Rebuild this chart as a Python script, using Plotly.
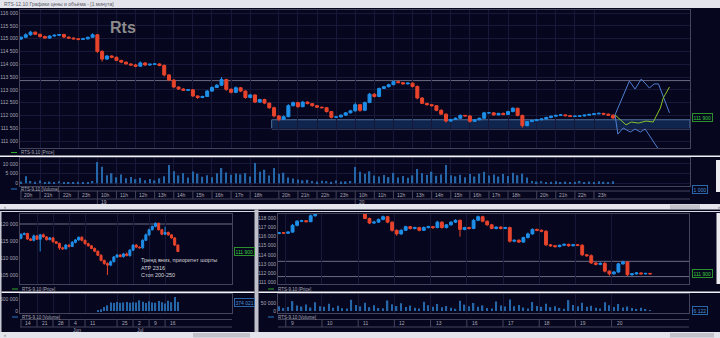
import plotly.graph_objects as go

# ---------------- RTS-9.10, 15-minute bars (upper window) ----------------
m15_first_open = 114980
m15_close = [
    115050, 115150, 115250, 115170, 115080, 115020, 115100, 115130, 115160, 115060,
    115020, 114990, 114970, 114990, 115050, 115150, 114500, 114200, 114320, 114270,
    114150, 114080, 114010, 113970, 113920, 114050, 113970, 114000, 114010, 113950,
    113580, 113380, 113110, 113030, 112980, 113000, 112760, 112700, 112740, 112950,
    113090, 113180, 113400, 113020, 112900, 113080, 112950, 112700, 112800, 112520,
    112620, 112480, 112300, 111980, 111850, 111950, 112380, 112500, 112340, 112520,
    112460, 112380, 112320, 112300, 112150, 111930, 111940, 112010, 112100, 112180,
    112420, 112200, 112500, 112830, 112740, 113050, 113120, 113200, 113320, 113280,
    113230, 113260, 113130, 112680, 112470, 112420, 112380, 112200, 112050, 111780,
    111840, 111890, 112000, 111980, 111770, 111830, 111890, 112100, 112100, 112020,
    112080, 112040, 112150, 112280, 112000, 111600, 111760, 111800, 111830, 111860,
    111920, 111970, 112000, 112020, 111990, 111960, 111970, 111980, 112010, 112040,
    112060, 112080, 112050, 112010, 111900,
]
m15_wick_up = [
    40, 60, 50, 30, 20, 40, 30, 40, 20, 30,
    20, 30, 20, 40, 30, 60, 20, 40, 40, 30,
    30, 20, 30, 20, 40, 60, 30, 20, 30, 20,
    40, 30, 30, 20, 40, 30, 30, 20, 30, 40,
    50, 40, 100, 30, 40, 50, 30, 30, 40, 20,
    30, 30, 20, 40, 30, 50, 60, 40, 30, 40,
    30, 20, 30, 20, 30, 20, 30, 20, 30, 40,
    80, 30, 40, 50, 30, 40, 30, 40, 50, 30,
    20, 30, 30, 40, 30, 20, 30, 20, 40, 30,
    30, 30, 40, 20, 30, 30, 20, 40, 30, 30,
    20, 30, 30, 40, 20, 30, 20, 30, 20, 20,
    30, 20, 30, 20, 20, 30, 20, 30, 20, 20,
    20, 30, 20, 20, 30,
]
m15_wick_dn = [
    30, 20, 40, 30, 40, 20, 30, 20, 30, 40,
    30, 20, 40, 20, 30, 20, 60, 100, 30, 40,
    30, 40, 20, 30, 40, 20, 40, 30, 20, 30,
    60, 40, 50, 30, 20, 30, 40, 60, 30, 20,
    30, 20, 30, 60, 40, 30, 40, 50, 30, 40,
    30, 40, 50, 60, 80, 30, 20, 30, 40, 20,
    30, 40, 30, 20, 40, 50, 30, 20, 30, 20,
    40, 60, 30, 20, 40, 30, 20, 30, 20, 30,
    30, 20, 40, 50, 30, 40, 30, 40, 30, 60,
    30, 20, 30, 20, 50, 30, 20, 30, 20, 30,
    20, 30, 20, 30, 40, 80, 30, 20, 30, 20,
    20, 30, 20, 20, 30, 20, 20, 30, 20, 20,
    20, 20, 30, 20, 30,
]
m15_volume = [
    900, 3600, 1200, 800, 1500, 700, 900, 600, 1100, 700,
    500, 600, 800, 500, 700, 1200, 11000, 8600, 4200, 5200,
    3100, 4600, 2600, 3300, 2100, 2800, 1600, 2200, 1500, 2600,
    3600, 9500, 6200, 4100, 5300, 3000, 6100, 5000, 3400, 4200,
    3100, 5200, 7900, 5600, 4400, 5100, 4600, 5300, 3500, 10500,
    6000, 7000, 4000, 7900, 5000, 5500, 3000, 2500, 2000, 1500,
    1800, 1200, 900, 1300, 1100, 800, 1400, 900, 1000, 1200,
    8500, 6000, 5000, 6200, 4000, 3500, 4300, 3200, 5400, 3000,
    3800, 2900, 4100, 7400, 5200, 4300, 6000, 3900, 4600, 9500,
    4200, 3600, 4400, 3100, 4800, 3500, 5000, 6000, 4000, 4500,
    3500, 4800, 3800, 5500, 4200, 5000, 3000, 1200, 900, 1100,
    700, 800, 1000, 600, 900, 700, 800, 1200, 600, 900,
    700, 1000, 800, 600, 1000,
]
m15_hour_slots = [0, 4, 8, 12, 16, 20, 24, 28, 32, 36, 40, 44, 48, 54, 58,
                  62, 66, 70, 74, 78, 82, 86, 90, 94, 98, 102, 108, 112, 116, 120]
m15_hour_labels = ["20h", "21h", "22h", "23h", "10h", "11h", "12h", "13h", "14h", "15h",
                   "16h", "17h", "18h", "20h", "21h", "22h", "23h", "10h", "11h", "12h",
                   "13h", "14h", "15h", "16h", "17h", "18h", "20h", "21h", "22h", "23h"]
m15_day_slots = [16, 70]
m15_day_labels = ["19", "20"]
m15_resistance = 113360
m15_zone_low, m15_zone_high = 111470, 111830
m15_zone_from = 52.5

# scenario paths drawn after the last bar
path_up_x = [124.4, 127.4, 128.6, 129.9, 131.6, 132.6, 133.5, 135.8]
path_up_y = [112020, 113340, 113030, 113420, 113070, 113230, 113230, 112100]
path_dn_x = [124.4, 125.0, 126.1, 127.6, 128.6, 129.7, 130.7, 133.6]
path_dn_y = [112020, 111270, 111510, 111350, 111470, 111350, 111470, 110650]
path_main_x = [124.4, 126.7, 127.8, 129.3, 130.9, 132.4, 133.9, 134.5, 135.8]
path_main_y = [112020, 111630, 111740, 111700, 111780, 111740, 112290, 112680, 113110]

# ---------------- RTS-9.10, daily bars (lower left window) ----------------
d1_first_open = 115800
d1_close = [
    116900, 117200, 115600, 115200, 116500, 115500, 116800, 116200, 115400, 115900,
    114800, 114300, 113000, 112700, 113800, 113400, 114600, 115300, 116100, 115200,
    114200, 113600, 112800, 112000, 110800, 109300, 108400, 107900, 108900, 110300,
    110900, 110400, 111200, 110700, 112300, 113800, 113200, 113000, 115200, 116800,
    118300, 119300, 120200, 118300, 117000, 117500, 116800, 115900, 113800, 111900,
]
d1_wick_up = [
    400, 300, 200, 300, 400, 200, 300, 400, 200, 300,
    300, 200, 200, 300, 300, 200, 400, 300, 200, 300,
    200, 300, 200, 300, 200, 300, 200, 300, 400, 300,
    300, 200, 300, 400, 300, 200, 300, 200, 300, 400,
    300, 200, 300, 200, 300, 1700, 300, 200, 300, 200,
]
d1_wick_dn = [
    300, 200, 300, 200, 300, 200, 3600, 200, 300, 200,
    300, 200, 600, 300, 200, 300, 200, 300, 200, 300,
    200, 300, 200, 300, 200, 300, 400, 2900, 300, 200,
    300, 200, 300, 200, 300, 200, 300, 200, 300, 200,
    300, 200, 300, 200, 300, 200, 300, 200, 300, 200,
]
d1_volume = [
    0, 0, 0, 0, 0, 0, 0, 0, 0, 0,
    0, 0, 0, 0, 0, 0, 0, 0, 0, 0,
    0, 0, 0, 0, 14000, 70000, 167000, 236000, 352000, 338000,
    371000, 344000, 356000, 379000, 341000, 362000, 349000, 447000, 381000, 336000,
    405000, 358000, 343000, 421000, 369000, 312000, 428000, 366000, 586000, 374021,
]
d1_week_slots = [0, 5, 10, 15, 20, 30, 35, 40, 45]
d1_week_labels = ["14", "21", "28", "4", "11", "25", "2", "9", "16"]
d1_month_slots = [15, 35]
d1_month_labels = ["Jun", "Jul"]
d1_level = 120000
d1_notes = ["Тренд вниз, приоритет шорты", "АТР 2316", "Стоп 200-250"]

# ---------------- RTS-9.10, intraday bars (lower right window) ----------------
h_first_open = 116350
h_close = [
    116430, 116380, 116500, 117250, 117700, 117750, 117650, 118300, 118800, 119300,
    119600, 119800, 120100, 119900, 120200, 119700, 119900, 119400, 118900, 118000,
    117500, 117600, 117900, 118200, 117600, 116700, 116300, 116700, 117100, 116900,
    117000, 116700, 117000, 117100, 117000, 117600, 117000, 117300, 117600, 117800,
    116800, 117000, 116900, 117800, 118200, 117700, 117300, 116900, 117050, 116900,
    117000, 115500, 115600, 115400, 115900, 116300, 116800, 116700, 116600, 115100,
    115000, 114900, 115050, 115150, 115000, 115100, 115050, 114000, 113900, 113100,
    112950, 113050, 112200, 111900, 112100, 113000, 113200, 111800, 111900, 112000,
    111900, 111950, 111900,
]
h_wick_up = [
    60, 80, 100, 150, 120, 100, 80, 150, 100, 120,
    100, 80, 120, 100, 150, 100, 80, 100, 120, 200,
    100, 150, 100, 120, 100, 80, 100, 120, 100, 80,
    100, 80, 120, 100, 80, 150, 100, 80, 100, 120,
    100, 80, 100, 150, 120, 100, 80, 100, 80, 100,
    80, 100, 80, 120, 100, 150, 100, 80, 100, 120,
    80, 100, 80, 100, 80, 100, 80, 120, 100, 150,
    100, 120, 150, 100, 120, 100, 150, 100, 80, 100,
    80, 60, 50,
]
h_wick_dn = [
    80, 60, 100, 80, 120, 100, 80, 60, 100, 120,
    100, 80, 120, 100, 80, 100, 80, 100, 120, 80,
    120, 100, 80, 100, 120, 150, 200, 100, 80, 120,
    100, 120, 80, 100, 150, 80, 120, 100, 80, 100,
    800, 100, 120, 80, 100, 120, 100, 80, 100, 120,
    80, 150, 120, 100, 80, 100, 80, 100, 120, 150,
    120, 100, 80, 100, 120, 80, 100, 150, 120, 100,
    120, 100, 150, 200, 100, 80, 100, 150, 100, 80,
    80, 60, 50,
]
h_volume = [
    30000, 18000, 25000, 62000, 35000, 28000, 41000, 22000,
    55000, 30000, 26000, 45000, 20000, 33000, 18000, 15000,
    70000, 38000, 29000, 52000, 24000, 36000, 19000, 17000,
    66000, 42000, 31000, 48000, 25000, 34000, 21000, 16000,
    58000, 36000, 27000, 44000, 23000, 31000, 20000, 14000,
    64000, 40000, 30000, 50000, 26000, 35000, 18000, 15000,
    60000, 34000, 28000, 72000, 30000, 38000, 22000, 16000,
    56000, 32000, 26000, 46000, 24000, 30000, 19000, 14000,
    68000, 38000, 29000, 52000, 26000, 33000, 20000, 15000,
    54000, 36000, 25000, 44000, 22000, 28000, 18000, 13000,
    20000, 12000, 6122,
]
h_day_slots = [1.5, 9.5, 17.5, 25.5, 33.5, 41.5, 49.5, 57.5, 65.5, 73.5]
h_day_labels = ["9", "10", "11", "12", "13", "16", "17", "18", "19", "20"]
h_levels = [113280, 111600]

# ---------------- styling ----------------
W, H = 720, 338
BG = "#06061e"
GRID = "#181838"
FRAME = "#44445c"
LEVEL = "#6c6c84"
UP = "#1f8fe8"
DOWN = "#e8442c"
VOL = "#2466a8"
TXT = "#a8a8b4"
CHROME = "#e4e5ec"
THUMB = "#c2c3ca"
GREEN = "#3ccf3c"
FONT = "Liberation Sans"


def px(x):
    return x / W


def py(y):
    return 1 - y / H


def fmt(v):
    return f"{v:,}".replace(",", " ")


def build_ohlc(first_open, closes, wick_up, wick_dn):
    opens = [first_open] + closes[:-1]
    highs = [max(o, c) + u for o, c, u in zip(opens, closes, wick_up)]
    lows = [min(o, c) - d for o, c, d in zip(opens, closes, wick_dn)]
    return opens, highs, lows


tick_font = dict(family=FONT, size=5, color=TXT)


def x_axis(dom, rng, grid_vals, anchor):
    return dict(domain=dom, range=rng, anchor=anchor, tickvals=grid_vals,
                showticklabels=False, ticks="", showgrid=True, gridcolor=GRID,
                gridwidth=1, zeroline=False, showline=True, mirror=True,
                linecolor=FRAME, linewidth=1, rangeslider=dict(visible=False),
                fixedrange=True)


def y_left(dom, rng, vals, anchor, grid=True):
    return dict(domain=dom, range=rng, anchor=anchor, side="left",
                tickvals=vals, ticktext=[fmt(v) for v in vals], tickfont=tick_font,
                ticks="", showgrid=grid, gridcolor=GRID, zeroline=False,
                showline=True, mirror=True, linecolor=FRAME, linewidth=1,
                fixedrange=True)


def y_right(over, rng, vals, anchor):
    return dict(overlaying=over, side="right", range=rng, anchor=anchor,
                tickvals=vals, ticktext=[fmt(v) for v in vals], tickfont=tick_font,
                ticks="", showgrid=False, zeroline=False, showline=False,
                fixedrange=True)


TOP_X = [-0.2, 140.1]
TOP_PY = [110727, 116117]
TOP_VY = [-1400, 13100]
D1_X = [-0.31, 65.9]
D1_PY = [102350, 122940]
D1_VY = [-83000, 708000]
H_X = [-0.22, 90.6]
H_PY = [110782, 118496]
H_VY = [-12500, 106250]

fig = go.Figure()


def add_candles(first_open, closes, wu, wd, xa, ya):
    o, h, l = build_ohlc(first_open, closes, wu, wd)
    fig.add_trace(go.Candlestick(
        x=list(range(len(closes))), open=o, high=h, low=l, close=closes,
        increasing=dict(line=dict(color=UP, width=1), fillcolor=UP),
        decreasing=dict(line=dict(color=DOWN, width=1), fillcolor=DOWN),
        whiskerwidth=0, xaxis=xa, yaxis=ya, hoverinfo="skip", showlegend=False))


def add_volume(vols, xa, ya, width):
    fig.add_trace(go.Bar(
        x=list(range(len(vols))), y=vols, width=width, marker=dict(color=VOL, line=dict(width=0)),
        xaxis=xa, yaxis=ya, hoverinfo="skip", showlegend=False))


add_candles(m15_first_open, m15_close, m15_wick_up, m15_wick_dn, "x", "y")
add_volume(m15_volume, "x2", "y3", 0.3)
add_candles(d1_first_open, d1_close, d1_wick_up, d1_wick_dn, "x3", "y5")
add_volume(d1_volume, "x4", "y7", 0.4)
add_candles(h_first_open, h_close, h_wick_up, h_wick_dn, "x5", "y9")
add_volume(h_volume, "x6", "y11", 0.3)

for xs, ys, col in [(path_up_x, path_up_y, "#4f7fd2"), (path_dn_x, path_dn_y, "#4f7fd2"),
                    (path_main_x, path_main_y, "#86c22a")]:
    fig.add_trace(go.Scatter(x=xs, y=ys, mode="lines", line=dict(color=col, width=1),
                             xaxis="x", yaxis="y", hoverinfo="skip", showlegend=False))

top_price_ticks = [116000, 115500, 115000, 114500, 114000, 113500, 113000, 112500, 112000, 111500, 111000]
d1_price_ticks = [120000, 115000, 110000, 105000]
h_price_ticks = [118000, 117000, 116000, 115000, 114000, 113000, 112000, 111000]

layout_axes = dict(
    xaxis=x_axis([px(20), px(690)], TOP_X, m15_hour_slots, "y"),
    xaxis2=x_axis([px(20), px(690)], TOP_X, m15_hour_slots, "y3"),
    xaxis3=x_axis([px(20), px(232)], D1_X, d1_week_slots, "y5"),
    xaxis4=x_axis([px(20), px(232)], D1_X, d1_week_slots, "y7"),
    xaxis5=x_axis([px(278), px(689)], H_X, h_day_slots, "y9"),
    xaxis6=x_axis([px(278), px(689)], H_X, h_day_slots, "y11"),
    yaxis=y_left([py(148), py(10)], TOP_PY, top_price_ticks, "x"),
    yaxis2=y_right("y", TOP_PY, [v for v in top_price_ticks if v != 112000], "x"),
    yaxis3=y_left([py(186), py(158)], TOP_VY, [10000, 5000, 0], "x2"),
    yaxis4=y_right("y3", TOP_VY, [10000, 5000], "x2"),
    yaxis5=y_left([py(284), py(214)], D1_PY, d1_price_ticks, "x3", grid=False),
    yaxis6=y_right("y5", D1_PY, d1_price_ticks, "x3"),
    yaxis7=y_left([py(313), py(294)], D1_VY, [500000, 0], "x4", grid=False),
    yaxis8=y_right("y7", D1_VY, [500000], "x4"),
    yaxis9=y_left([py(284), py(214)], H_PY, h_price_ticks, "x5", grid=False),
    yaxis10=y_right("y9", H_PY, [v for v in h_price_ticks if v != 112000], "x5"),
    yaxis11=y_left([py(313), py(294)], H_VY, [50000, 0], "x6", grid=False),
    yaxis12=y_right("y11", H_VY, [50000], "x6"),
)

shapes = []
ann = []


def rect(x0, y0, x1, y1, color):
    shapes.append(dict(type="rect", xref="paper", yref="paper", x0=px(x0), x1=px(x1),
                       y0=py(y1), y1=py(y0), fillcolor=color, line=dict(width=0), layer="above"))


def hline(x0, x1, y, color, width=1):
    shapes.append(dict(type="line", xref="paper", yref="paper", x0=px(x0), x1=px(x1),
                       y0=py(y), y1=py(y), line=dict(color=color, width=width), layer="above"))


def text(x, y, s, size=5, color=TXT, anchor="left", **kw):
    ann.append(dict(x=px(x), y=py(y), xref="paper", yref="paper", text=s, showarrow=False,
                    xanchor=anchor, yanchor="middle", font=dict(family=FONT, size=size, color=color), **kw))


# window chrome
rect(0, 0, 720, 8, CHROME)
text(2, 4, "RTS-12.10 Графики цены и объёма - [1 минута]", size=5, color="#5a5a66")
rect(0, 204, 720, 209.5, CHROME)
rect(670, 204.5, 700, 209, THUMB)
hline(0, 255, 211.5, "#d8d8e0", 1)
hline(258, 720, 211.5, "#d8d8e0", 1)
rect(0, 211, 1.5, 332, "#c8c8d2")
rect(254.5, 209.5, 258.5, 332, "#c0c0ca")
rect(0, 332, 720, 338, CHROME)
rect(193, 333, 250, 337.5, THUMB)
rect(670, 333, 714, 337.5, THUMB)
rect(716, 160, 720, 192, "#ececf0")
rect(716.5, 213, 720, 284, "#ececf0")
text(2, 206.8, "‹", size=6, color="#555")
text(2, 335, "‹", size=6, color="#555")
text(716, 206.8, "›", size=6, color="#555")

# white separators between price and volume panes
hline(0, 720, 156.3, "#f2f2f6", 1.5)
hline(1.5, 254.5, 292.3, "#f2f2f6", 1.5)
hline(258.5, 720, 292.3, "#f2f2f6", 1.5)

# title
text(108, 27.5, "<b>Rts</b>", size=16, color="#8c8c8c")

# pane legends
for (x0, y, col, label) in [(11, 152.5, "#2aa82a", "RTS-9.10 [Price]"),
                            (11, 189.0, "#2a78c8", "RTS-9.10 [Volume]"),
                            (12, 289.0, "#2aa82a", "RTS-9.10 [Price]"),
                            (12, 317.0, "#2a78c8", "RTS-9.10 [Volume]"),
                            (268, 289.0, "#2aa82a", "RTS-9.10 [Price]"),
                            (268, 317.0, "#2a78c8", "RTS-9.10 [Volume]")]:
    hline(x0, x0 + 6, y, col, 1)
    text(x0 + 8, y, label, size=4.5)

# levels and support zone
shapes.append(dict(type="rect", xref="x", yref="y", x0=m15_zone_from, x1=TOP_X[1],
                   y0=m15_zone_low, y1=m15_zone_high, fillcolor="rgba(24,58,108,0.6)",
                   line=dict(color="#4f719c", width=1), layer="below"))
shapes.append(dict(type="line", xref="x domain", yref="y", x0=0, x1=1, y0=m15_resistance,
                   y1=m15_resistance, line=dict(color=LEVEL, width=1), layer="below"))
shapes.append(dict(type="line", xref="x3 domain", yref="y5", x0=0, x1=1, y0=d1_level,
                   y1=d1_level, line=dict(color=LEVEL, width=1), layer="below"))
for lv in h_levels:
    shapes.append(dict(type="line", xref="x5 domain", yref="y9", x0=0, x1=1, y0=lv,
                       y1=lv, line=dict(color=LEVEL, width=1), layer="below"))

# time scales
hline(20, 690, 191, FRAME)
hline(20, 690, 199, FRAME)
for s in m15_hour_slots:
    y_end = 204 if s in m15_day_slots else 199
    shapes.append(dict(type="line", xref="x", yref="paper", x0=s, x1=s, y0=py(191), y1=py(y_end),
                       line=dict(color=FRAME, width=1)))
for s, lab in zip(m15_hour_slots, m15_hour_labels):
    ann.append(dict(x=s, xref="x", y=py(195), yref="paper", text=lab, showarrow=False,
                    xanchor="left", yanchor="middle", xshift=1.5, font=tick_font))
for s, lab in zip(m15_day_slots, m15_day_labels):
    ann.append(dict(x=s, xref="x", y=py(201.5), yref="paper", text=lab, showarrow=False,
                    xanchor="left", yanchor="middle", xshift=1.5, font=tick_font))

hline(20, 232, 319.5, FRAME)
hline(20, 232, 327, FRAME)
for s in d1_week_slots:
    shapes.append(dict(type="line", xref="x3", yref="paper", x0=s, x1=s, y0=py(319.5), y1=py(327),
                       line=dict(color=FRAME, width=1)))
for s, lab in zip(d1_week_slots, d1_week_labels):
    ann.append(dict(x=s, xref="x3", y=py(323.2), yref="paper", text=lab, showarrow=False,
                    xanchor="left", yanchor="middle", xshift=2.5, font=tick_font))
for s, lab in zip(d1_month_slots, d1_month_labels):
    ann.append(dict(x=s, xref="x3", y=py(330), yref="paper", text=lab, showarrow=False,
                    xanchor="left", yanchor="middle", xshift=1.5, font=tick_font))

hline(278, 689, 319.5, FRAME)
hline(278, 689, 327, FRAME)
for s in h_day_slots:
    shapes.append(dict(type="line", xref="x5", yref="paper", x0=s, x1=s, y0=py(319.5), y1=py(327),
                       line=dict(color=FRAME, width=1)))
for s, lab in zip(h_day_slots, h_day_labels):
    ann.append(dict(x=s, xref="x5", y=py(323.2), yref="paper", text=lab, showarrow=False,
                    xanchor="left", yanchor="middle", xshift=3, font=tick_font))


# last-value boxes on the right scales
def value_box(x, yref, yval, s, col, border):
    ann.append(dict(x=px(x), xref="paper", y=yval, yref=yref, text=s, showarrow=False,
                    xanchor="left", yanchor="middle", font=dict(family=FONT, size=5, color=col),
                    bgcolor=BG, bordercolor=border, borderwidth=1, borderpad=0.5))


value_box(692, "y", m15_close[-1], fmt(m15_close[-1]), GREEN, "#2b8f2b")
ann.append(dict(x=px(692), xref="paper", y=py(189.5), yref="paper", text=fmt(m15_volume[-1]),
                showarrow=False, xanchor="left", yanchor="middle",
                font=dict(family=FONT, size=5, color="#4a92d6"), bgcolor=BG,
                bordercolor="#2a66a8", borderwidth=1, borderpad=0.5))
value_box(234, "y5", d1_close[-1], fmt(d1_close[-1]), GREEN, "#2b8f2b")
value_box(234, "y7", d1_volume[-1], fmt(d1_volume[-1]), "#4a92d6", "#2a66a8")
value_box(692, "y9", h_close[-1], fmt(h_close[-1]), GREEN, "#2b8f2b")
value_box(692, "y11", h_volume[-1], fmt(h_volume[-1]), "#4a92d6", "#2a66a8")

# trade notes on the daily chart
for i, note in enumerate(d1_notes):
    text(139, 260 + 7.6 * i, note, size=5.5, color="#d6d6dc")

fig.update_layout(
    width=W, height=H, margin=dict(l=0, r=0, t=0, b=0),
    paper_bgcolor=BG, plot_bgcolor=BG, showlegend=False,
    font=dict(family=FONT, size=5, color=TXT),
    boxgap=0.1,
    shapes=shapes, annotations=ann, **layout_axes,
)

fig.write_html("out.html", config={"displayModeBar": False})
